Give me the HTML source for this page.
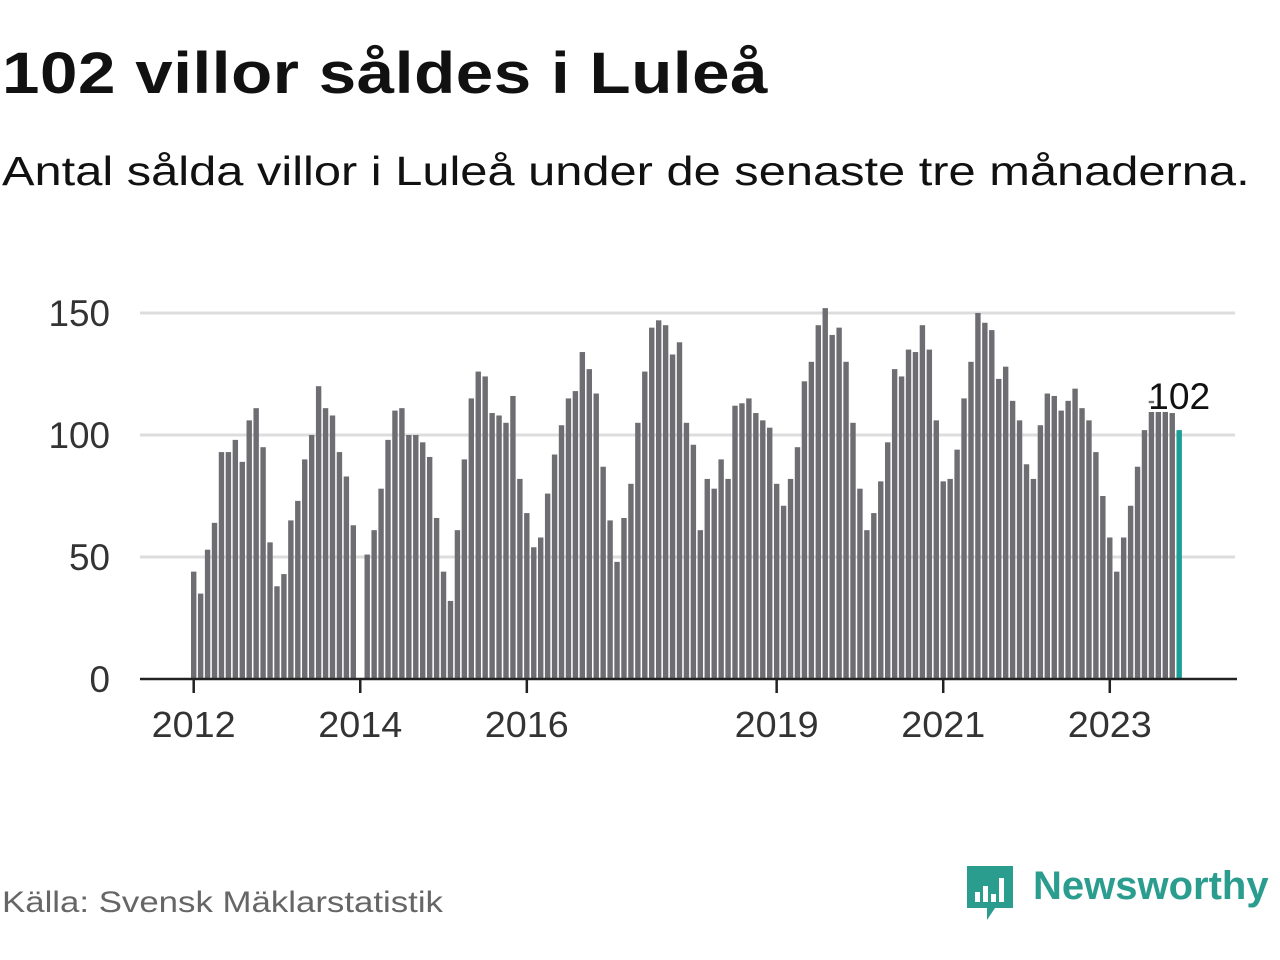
<!DOCTYPE html>
<html><head><meta charset="utf-8">
<style>
body{margin:0;width:1280px;height:960px;background:#fff;font-family:"Liberation Sans",sans-serif;overflow:hidden;position:relative}
#title{position:absolute;left:2px;top:40px;font-size:58px;font-weight:bold;color:#111;margin:0;letter-spacing:0.5px;transform:scaleX(1.16);transform-origin:0 0;white-space:nowrap}
#sub{position:absolute;left:2px;top:148px;font-size:41px;color:#111;transform:scaleX(1.19);transform-origin:0 0;white-space:nowrap}
#src{position:absolute;left:2px;top:886px;font-size:30px;color:#666;transform:scaleX(1.16);transform-origin:0 0;white-space:nowrap}
#logo{position:absolute;left:965px;top:864px}
#logotext{position:absolute;left:1033px;top:864px;font-size:40px;font-weight:bold;color:#2a9d8f}
svg{position:absolute;left:0;top:0}
</style></head><body>
<h1 id="title">102 villor såldes i Luleå</h1>
<div id="sub">Antal sålda villor i Luleå under de senaste tre månaderna.</div>
<svg id="chart" width="1280" height="960"></svg>
<div id="src">Källa: Svensk Mäklarstatistik</div>
<svg id="logo" width="52" height="60">
<path d="M2 2 H48 V44 H30 L22 56 L22 44 H2 Z" fill="#2a9d8f"/>
<rect x="10" y="28" width="5" height="10" fill="#fff"/><rect x="18" y="22" width="5" height="16" fill="#fff"/><rect x="26" y="30" width="5" height="8" fill="#fff"/><rect x="34" y="14" width="5" height="24" fill="#fff"/>
</svg>
<div id="logotext">Newsworthy</div>
<script>
const values=[44,35,53,64,93,93,98,89,106,111,95,56,
38,43,65,73,90,100,120,111,108,93,83,63,
0,51,61,78,98,110,111,100,100,97,91,66,
44,32,61,90,115,126,124,109,108,105,116,82,
68,54,58,76,92,104,115,118,134,127,117,87,
65,48,66,80,105,126,144,147,145,133,138,105,
96,61,82,78,90,82,112,113,115,109,106,103,
80,71,82,95,122,130,145,152,141,144,130,105,
78,61,68,81,97,127,124,135,134,145,135,106,
81,82,94,115,130,150,146,143,123,128,114,106,
88,82,104,117,116,110,114,119,111,106,93,75,
58,44,58,71,87,102,114,110,112,109,102];
const tickYears=["2012","2014","2016","2019","2021","2023"];
const tickIdx=[0,24,48,84,108,132];
const yTicks=[0,50,100,150];
const lastLabel="102";

const svg=document.getElementById('chart');
const NS="http://www.w3.org/2000/svg";
const x0=191,step=6.94,bw=5.4,yBase=679,yScale=(679-313)/150;
const X=i=>x0+i*step;
const Y=v=>yBase-v*yScale;
function mk(t,a){const e=document.createElementNS(NS,t);for(const k in a)e.setAttribute(k,a[k]);svg.appendChild(e);return e;}
yTicks.forEach(v=>{
  if(v>0){const g=mk('line',{x1:140,x2:1235,y1:Y(v),y2:Y(v),stroke:'#ddd','stroke-width':3});
  
  }
  const t=mk('text',{x:110,y:Y(v)+13,'text-anchor':'end','font-size':37,fill:'#333','font-family':'Liberation Sans, sans-serif',textLength:String(v).length*20.5,lengthAdjust:'spacingAndGlyphs'});
  t.textContent=v;
  
  
});
values.forEach((v,i)=>{
  const last=i===values.length-1;
  const r=mk('rect',{x:X(i),y:Y(v),width:bw,height:v*yScale,fill:last?'#1a9e96':'#6e6d72'});
  
  
});
const ax=mk('line',{x1:140,x2:1237,y1:yBase,y2:yBase,stroke:'#222','stroke-width':2.5});


tickIdx.forEach((idx,k)=>{
  const cx=X(idx)+bw/2;
  const l=mk('line',{x1:cx,x2:cx,y1:yBase,y2:yBase+14,stroke:'#222','stroke-width':2.5});
  
  
  const t=mk('text',{x:cx,y:737,'text-anchor':'middle','font-size':36,fill:'#333','font-family':'Liberation Sans, sans-serif',textLength:84,lengthAdjust:'spacingAndGlyphs'});
  t.textContent=tickYears[k];
  
  
});
const li=values.length-1;
const lt=mk('text',{x:X(li)+bw/2,y:409,'text-anchor':'middle','font-size':37,fill:'#111',stroke:'#fff','stroke-width':6,'paint-order':'stroke','font-family':'Liberation Sans, sans-serif',textLength:62,lengthAdjust:'spacingAndGlyphs'});
lt.textContent=lastLabel;


</script>
</body></html>
